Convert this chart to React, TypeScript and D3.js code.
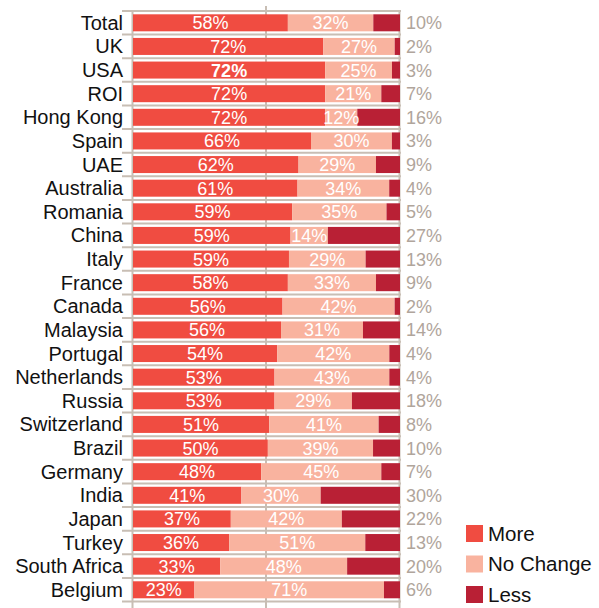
import React from 'react';
import * as d3 from 'd3';

const countries = [
  'Total', 'UK', 'USA', 'ROI', 'Hong Kong', 'Spain', 'UAE', 'Australia', 'Romania', 'China',
  'Italy', 'France', 'Canada', 'Malaysia', 'Portugal', 'Netherlands', 'Russia', 'Switzerland',
  'Brazil', 'Germany', 'India', 'Japan', 'Turkey', 'South Africa', 'Belgium',
];
const more = [58, 72, 72, 72, 72, 66, 62, 61, 59, 59, 59, 58, 56, 56, 54, 53, 53, 51, 50, 48, 41, 37, 36, 33, 23];
const noChange = [32, 27, 25, 21, 12, 30, 29, 34, 35, 14, 29, 33, 42, 31, 42, 43, 29, 41, 39, 45, 30, 42, 51, 48, 71];
const less = [10, 2, 3, 7, 16, 3, 9, 4, 5, 27, 13, 9, 2, 14, 4, 4, 18, 8, 10, 7, 30, 22, 13, 20, 6];

const seriesKeys = ['More', 'No Change', 'Less'];
const colors = ['#f04c41', '#f9b39f', '#b92035'];
const boldRow = 'USA';

const width = 599;
const height = 608;
const font = '"Liberation Sans", Arial, Helvetica, sans-serif';
const gridColor = '#c8beb4';

export default function App() {
  const rows = countries.map((c, i) => ({
    country: c, More: more[i], 'No Change': noChange[i], Less: less[i],
  }));
  const stacked = d3.stack<any>().keys(seriesKeys).offset(d3.stackOffsetExpand)(rows);

  const x = d3.scaleLinear().domain([0, 1]).range([133, 400]);
  const y = d3.scaleBand<string>().domain(countries).range([11, 601.6]).paddingInner(0.28).paddingOuter(0.14);
  const off = (y.step() - y.bandwidth()) / 2;
  const gridYs = countries.map((c) => (y(c) as number) - off).concat([(y(countries[countries.length - 1]) as number) + y.bandwidth() + off]);

  return (
    <svg width={width} height={height} style={{ position: 'absolute', left: 0, top: 0, display: 'block' }} fontFamily={font}>
      {/* horizontal gridlines / ticks */}
      {gridYs.map((gy, i) => (
        <line key={i} x1={122} x2={401} y1={gy} y2={gy} stroke={gridColor} strokeWidth={2} />
      ))}
      {/* vertical gridlines */}
      {[0, 0.5, 1].map((v) => (
        <line key={v} x1={x(v) - 0.5} x2={x(v) - 0.5} y1={v === 0.5 ? 6 : 10} y2={height} stroke={gridColor} strokeWidth={2} />
      ))}

      {/* bars */}
      {stacked.map((s, si) => (
        <g key={s.key} fill={colors[si]}>
          {s.map((d, i) => (
            <rect key={i} x={x(d[0])} y={y(countries[i])} width={x(d[1]) - x(d[0])} height={y.bandwidth()} />
          ))}
        </g>
      ))}

      {/* value labels */}
      {stacked.map((s, si) => (
        <g key={s.key} fontSize={18}>
          {s.map((d, i) => {
            const cy = (y(countries[i]) as number) + y.bandwidth() / 2 + 6.5;
            const val = (d.data as any)[s.key];
            if (si === 2) {
              return (
                <text key={i} x={406} y={cy} fill="#b0a59b">{val}%</text>
              );
            }
            return (
              <text key={i} x={(x(d[0]) + x(d[1])) / 2} y={cy} textAnchor="middle" fill="#ffffff"
                fontWeight={si === 0 && countries[i] === boldRow ? 'bold' : 'normal'}>{val}%</text>
            );
          })}
        </g>
      ))}

      {/* category labels */}
      {countries.map((c) => (
        <text key={c} x={123} y={(y(c) as number) + y.bandwidth() / 2 + 7} textAnchor="end" fontSize={20} fill="#111">{c}</text>
      ))}

      {/* legend */}
      {seriesKeys.map((k, i) => (
        <g key={k} transform={`translate(466, ${525 + i * 30.5})`}>
          <rect width={17} height={17} fill={colors[i]} />
          <text x={22} y={15.5} fontSize={20.5} fill="#111">{k}</text>
        </g>
      ))}
    </svg>
  );
}
